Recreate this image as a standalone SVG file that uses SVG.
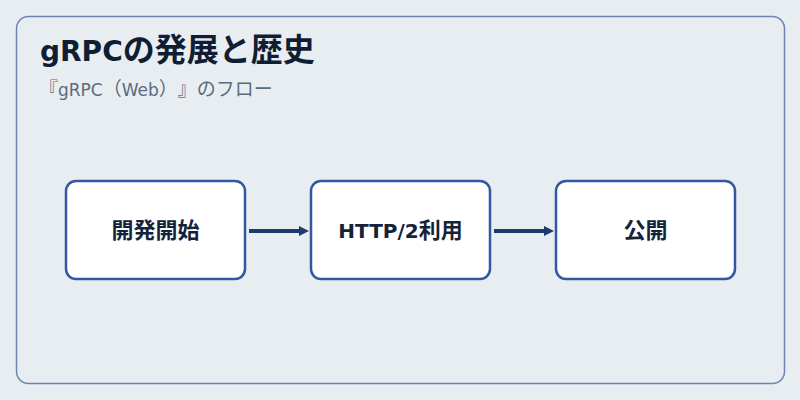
<svg xmlns="http://www.w3.org/2000/svg" width="800" height="400" viewBox="0 0 800 400">
<defs>
<style>
text{font-family:"DejaVu Sans","Noto Sans CJK JP",sans-serif;text-spacing-trim:space-all}
.node rect{fill:#ffffff;stroke:#3358a0;stroke-width:2.5}
.node text{font-size:20px;font-weight:bold;fill:#14233a;text-anchor:middle}
.node .j{font-size:22px}
.conn{stroke:#1f3a6e;stroke-width:4;fill:none}
</style>
<marker id="ah" markerWidth="10" markerHeight="10" refX="0" refY="5" orient="auto" markerUnits="userSpaceOnUse">
<path d="M0,0 L10,5 L0,10 Z" fill="#1f3a6e"/>
</marker>
</defs>
<rect x="0" y="0" width="800" height="400" fill="#e8edf2"/>
<rect x="16.5" y="16.5" width="768" height="367" rx="12" fill="#e8edf2" stroke="#6b84b0" stroke-width="1.5"/>
<text x="40" y="61" font-size="28" font-weight="bold" fill="#0f1e33">gRPC<tspan font-size="32">の発展と歴史</tspan></text>
<text x="39" y="96" font-size="17" fill="#5a6a80"><tspan font-size="19">『</tspan>gRPC<tspan font-size="19">（</tspan>Web<tspan font-size="19">）』のフロー</tspan></text>
<g id="connectors">
<line class="conn" x1="249" y1="231" x2="299" y2="231" marker-end="url(#ah)"/>
<line class="conn" x1="494" y1="231" x2="544" y2="231" marker-end="url(#ah)"/>
</g>
<g id="node1" class="node">
<rect x="66" y="181" width="179" height="98" rx="10"/>
<text x="155.5" y="238"><tspan class="j">開発開始</tspan></text>
</g>
<g id="node2" class="node">
<rect x="311" y="181" width="179" height="98" rx="10"/>
<text x="400.5" y="238">HTTP/2<tspan class="j">利用</tspan></text>
</g>
<g id="node3" class="node">
<rect x="556" y="181" width="179" height="98" rx="10"/>
<text x="645.5" y="238"><tspan class="j">公開</tspan></text>
</g>
</svg>
